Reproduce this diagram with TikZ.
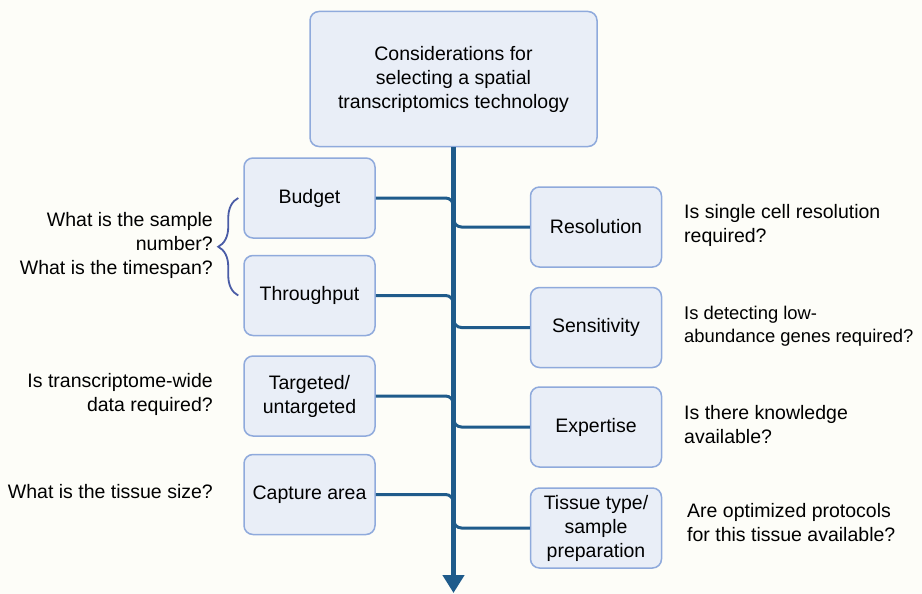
\documentclass[tikz,border=0pt]{standalone}
\usepackage{fontspec}
\setmainfont{Liberation Sans}
\usepackage{tikz}
\usetikzlibrary{arrows.meta}
\usetikzlibrary{decorations.pathreplacing}
\definecolor{TrunkBlue}{HTML}{1F5B8B}
\definecolor{BoxFill}{HTML}{E9EEF7}
\definecolor{BoxEdge}{HTML}{8FAADC}
\definecolor{BraceBlue}{HTML}{4A5CA6}
\definecolor{Paper}{HTML}{FDFDF8}

\tikzset{
  box/.style={draw=BoxEdge,fill=BoxFill,line width=1.5pt,rounded corners=9pt,
    minimum width=131pt,minimum height=80pt,align=center,inner sep=2pt},
  question/.style={inner sep=0pt},
  branch/.style={TrunkBlue,line width=3pt,rounded corners=8pt},
  trunk/.style={TrunkBlue,line width=5.5pt,-{Triangle[width=21pt,length=18pt]}},
  bracket/.style={BraceBlue,line width=1.8pt,decorate,decoration={brace,amplitude=20pt}}
}

\begin{document}
\begin{tikzpicture}[x=1pt,y=-1pt,font=\fontsize{19.5}{24}\selectfont]
      \fill[Paper] (0,0) rectangle (922,594);
      \useasboundingbox (0,0) rectangle (922,594);

      \node[box,minimum width=287pt,minimum height=135pt] (main) at (453.5,79)
        {Considerations for\\selecting a spatial\\transcriptomics technology};
      \coordinate (tip) at (453.5,593);

      \node[box] (budget) at (309.5,198) {Budget};
      \node[box] (throughput) at (309.5,295.5) {Throughput};
      \node[box] (targeted) at (309.5,396) {Targeted/\\untargeted};
      \node[box] (capture) at (309.5,494.5) {Capture area};

      \node[box] (resolution) at (596,227) {Resolution};
      \node[box] (sensitivity) at (596,327.5) {Sensitivity};
      \node[box] (expertise) at (596,427) {Expertise};
      \node[box] (tissue) at (596,528) {Tissue type/\\sample\\preparation};

      \node[question,anchor=east,align=right] (qsample) at (213,245)
        {What is the sample\\number?\\What is the timespan?};
      \node[question,anchor=east,align=right] (qtargeted) at (213,394.5)
        {Is transcriptome-wide\\data required?};
      \node[question,anchor=east,align=right] (qcapture) at (213,492) {What is the tissue size?};

      \node[question,anchor=west,align=left] (qresolution) at (684,225.5)
        {Is single cell resolution\\required?};
      \node[question,anchor=west,align=left,font=\fontsize{18.4}{23.5}\selectfont] (qsensitivity) at (684,326)
        {Is detecting low-\\abundance genes required?};
      \node[question,anchor=west,align=left] (qexpertise) at (684,425)
        {Is there knowledge\\available?};
      \node[question,anchor=west,align=left] (qtissue) at (687,523)
        {Are optimized protocols\\for this tissue available?};

      \draw[bracket] ([xshift=-5pt]throughput.west) -- ([xshift=-5pt]budget.west);

      \foreach \n in {budget,throughput,targeted,capture}
        \draw[branch] (\n.east) -| ([yshift=-13pt]\n.east -| main.south);
      \foreach \n in {resolution,sensitivity,expertise,tissue}
        \draw[branch] ([yshift=13pt]\n.west -| main.south) |- (\n.west);

      \draw[trunk] (main.south) -- (tip);
\end{tikzpicture}
\end{document}
